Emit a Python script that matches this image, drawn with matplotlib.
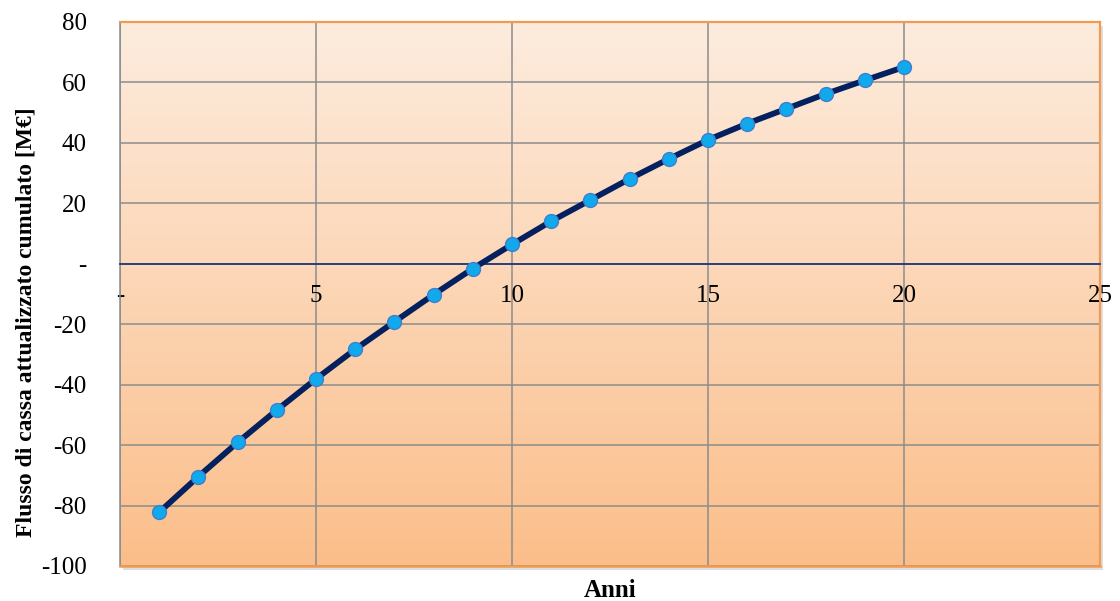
import numpy as np
import matplotlib
matplotlib.use("Agg")
import matplotlib.pyplot as plt
from matplotlib.patches import Rectangle
from matplotlib.ticker import FixedLocator, FuncFormatter

# Cumulated discounted cash flow per year
anni = [1, 2, 3, 4, 5, 6, 7, 8, 9, 10, 11, 12, 13, 14, 15, 16, 17, 18, 19, 20]
flusso_cumulato = [-82.2, -70.4, -59.1, -48.4, -38.1, -28.3, -19.2, -10.2, -1.6, 6.4,
                   14.1, 21.1, 28.1, 34.7, 41.0, 46.4, 51.3, 56.2, 60.7, 65.1]

x_ticks = [0, 5, 10, 15, 20, 25]
y_ticks = [-100, -80, -60, -40, -20, 0, 20, 40, 60, 80]

plt.rcParams['font.family'] = ['Liberation Serif', 'DejaVu Serif']

W, H = 1120, 601
fig = plt.figure(figsize=(W / 100, H / 100), dpi=100)
fig.patch.set_facecolor('white')

left, right, top, bottom = 120, 1100, 22, 566
ax = fig.add_axes([left / W, 1 - bottom / H, (right - left) / W, (bottom - top) / H])

# soft drop shadow behind the plot area
shadow = Rectangle(((left + 3) / W, 1 - (bottom + 4) / H), (right - left) / W, (bottom - top) / H,
                   transform=fig.transFigure, facecolor='#c8c8c8', edgecolor='none',
                   alpha=0.6, zorder=-5)
fig.patches.append(shadow)

ax.set_xlim(0, 25)
ax.set_ylim(-100, 80)

# vertical gradient fill of the plot area
grad = np.linspace(0, 1, 256).reshape(-1, 1)
c_top = np.array([253, 236, 222]) / 255
c_bot = np.array([251, 190, 138]) / 255
img = c_top[None, None, :] * (1 - grad[:, :, None]) + c_bot[None, None, :] * grad[:, :, None]
ax.imshow(img, extent=[0, 1, 0, 1], transform=ax.transAxes, aspect='auto', zorder=0)
ax.set_facecolor('none')

# grid
ax.xaxis.set_major_locator(FixedLocator(x_ticks))
ax.yaxis.set_major_locator(FixedLocator(y_ticks))
ax.grid(True, color='#8c8c8c', linewidth=1.1, zorder=1)
ax.set_axisbelow(True)

# data
ax.plot(anni, flusso_cumulato, color='#04205e', linewidth=4.2, zorder=4,
        marker='o', markersize=10, markerfacecolor='#0fa9ec',
        markeredgecolor='#3d7fd0', markeredgewidth=1.0)

# axis at zero carries the x labels
ax.spines['bottom'].set_position(('data', 0))
ax.spines['bottom'].set_color('#1f3a7a')
ax.spines['bottom'].set_linewidth(1.3)
ax.spines['bottom'].set_zorder(3)
ax.spines['left'].set_color('#8c8c8c')
ax.spines['left'].set_linewidth(1.1)
for s in ['top', 'right']:
    ax.spines[s].set_color('#f29a50')
    ax.spines[s].set_linewidth(1.6)
ax.plot([0, 1], [0, 0], transform=ax.transAxes, color='#f29a50', linewidth=1.8,
        clip_on=False, zorder=5)

def dash_zero(v, pos):
    return '-' if abs(v) < 1e-9 else f'{v:g}'

ax.xaxis.set_major_formatter(FuncFormatter(dash_zero))
ax.yaxis.set_major_formatter(FuncFormatter(dash_zero))
ax.tick_params(axis='x', length=0, pad=15, labelsize=18, colors='black')
ax.tick_params(axis='y', length=0, pad=24, labelsize=18, colors='black')

ax.text(0.5, -0.045, 'Anni', transform=ax.transAxes, ha='center', va='center',
        fontsize=18, fontweight='bold')
fig.text(26 / W, 1 - 322 / H, 'Flusso di cassa attualizzato cumulato [M€]',
         rotation=90, ha='center', va='center', fontsize=17, fontweight='bold')

fig.savefig('out.png', dpi=100)
